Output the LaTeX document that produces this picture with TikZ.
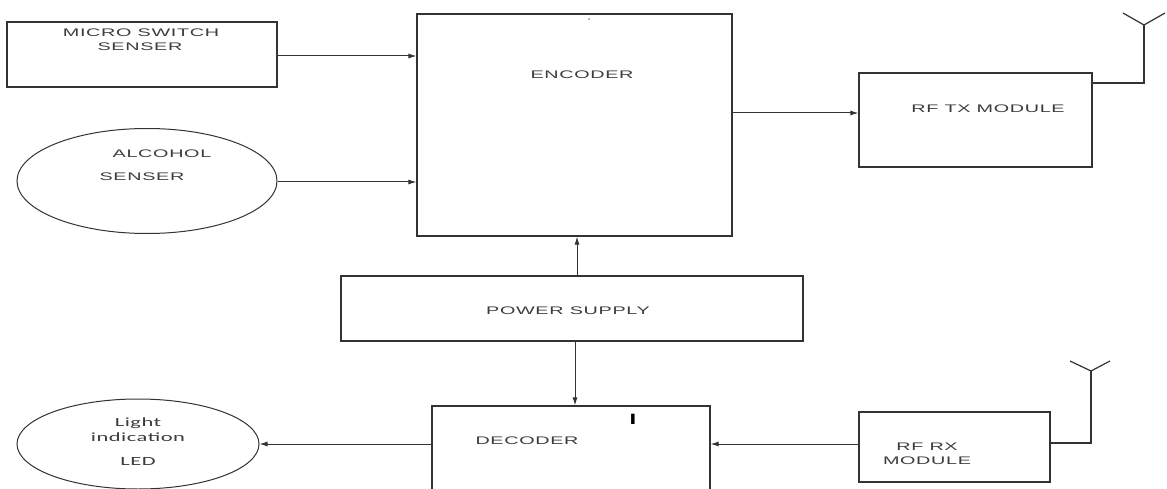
\documentclass[tikz,border=0pt]{standalone}
\usepackage{fontspec}
\usetikzlibrary{arrows.meta,shapes.geometric}
\newfontfamily\labfont[FakeStretch=1.8,LetterSpace=6]{Liberation Sans}
\newfontfamily\markfont[FakeStretch=1.6]{Liberation Sans Bold}
\newfontfamily\ledfont[FakeStretch=1.8,LetterSpace=4]{Carlito}
\definecolor{linec}{HTML}{333333}
\definecolor{textc}{HTML}{3C3C3C}
\tikzset{
  blk/.style={draw=linec, line width=1.2pt, rectangle, inner sep=0pt},
  oval/.style={draw=linec, line width=1pt, ellipse, inner sep=0pt},
  lbl/.style={text=textc, inner sep=0pt, font=\labfont\fontsize{11}{12}\selectfont},
  ledlbl/.style={text=textc, inner sep=0pt, font=\ledfont\fontsize{12.5}{14}\selectfont},
  arr/.style={draw=linec, line width=1pt, -{Latex[length=8pt,width=5pt]}},
  wire/.style={draw=linec, line width=1.2pt},
}
\begin{document}
\begin{tikzpicture}[x=1pt,y=-1pt]
\clip (0,0) rectangle (1167,489);
\fill[white] (0,0) rectangle (1167,489);
% blocks
\node[blk, minimum width=270pt, minimum height=65pt] (micro) at (142,54.5) {};
\node[oval, minimum width=260pt, minimum height=105pt] (alc) at (147,181) {};
\node[blk, minimum width=315pt, minimum height=222pt] (enc) at (574.5,125) {};
\node[blk, minimum width=233pt, minimum height=94pt] (rftx) at (975.5,120) {};
\node[blk, minimum width=462pt, minimum height=65pt] (pow) at (572,308.5) {};
\node[blk, minimum width=278pt, minimum height=108pt] (dec) at (571,460) {};
\node[blk, minimum width=191pt, minimum height=70pt] (rfrx) at (954.5,447) {};
\node[oval, minimum width=242pt, minimum height=90pt] (led) at (138,444) {};
% labels
\node[lbl] (t1) at (141,33) {MICRO SWITCH};
\node[lbl] (t2) at (140,47) {SENSER};
\node[lbl] (t3) at (162,154) {ALCOHOL};
\node[lbl] (t4) at (142,177) {SENSER};
\node[lbl] (t5) at (582,75) {ENCODER};
\node[lbl] (t6) at (988,109) {RF TX MODULE};
\node[lbl] (t7) at (568,311) {POWER SUPPLY};
\node[lbl] (t8) at (527,441) {DECODER};
\node[lbl] (t9) at (927,447) {RF RX};
\node[lbl] (t10) at (927,461) {MODULE};
\node[ledlbl] (t11) at (138,423) {Light};
\node[ledlbl] (t12) at (138,437) {indication};
\node[ledlbl] (t13) at (138,461) {LED};
\node[inner sep=0pt, text=black, font=\markfont\fontsize{15}{16}\selectfont] (mark) at (633,419) {I};
\fill[textc!60] (589,19) circle (1pt);
% connectors
\draw[arr] (micro.east |- 0,56) -- (enc.west |- 0,56);
\draw[arr] (alc.east |- 0,182) -- (enc.west |- 0,182);
\draw[arr] (enc.east |- 0,113) -- (rftx.west |- 0,113);
\draw[arr] (pow.north -| 577,0) -- (enc.south -| 577,0);
\draw[arr] (pow.south -| 575,0) -- (dec.north -| 575,0);
\draw[arr] (rfrx.west |- 0,444) -- (dec.east |- 0,444);
\draw[arr] (dec.west |- 0,444) -- (led.east);
% antennas
\coordinate (txa) at (1144,83);
\coordinate (txb) at (1144,25);
\draw[wire] (rftx.east |- txa) -- (txa) -- (txb);
\draw[wire] (1123,13) -- (txb) -- (1165,13);
\coordinate (rxa) at (1091,443);
\coordinate (rxb) at (1091,371);
\draw[wire] (rfrx.east |- rxa) -- (rxa) -- (rxb);
\draw[wire] (1070,361) -- (rxb) -- (1110,361);
\end{tikzpicture}
\end{document}
